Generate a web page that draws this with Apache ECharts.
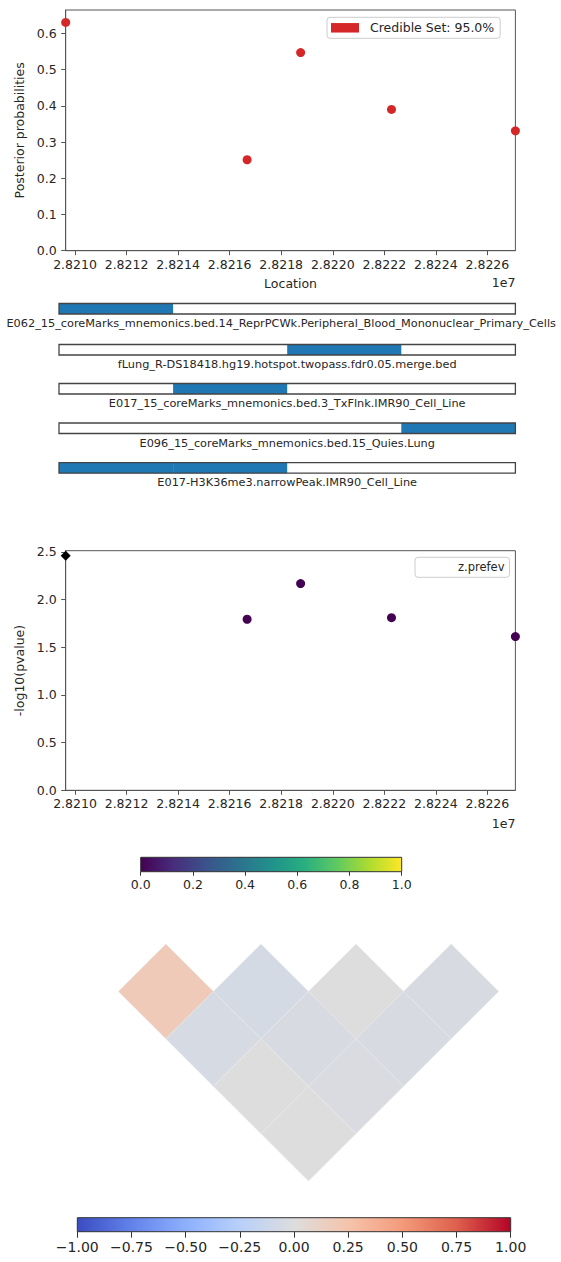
<!DOCTYPE html>
<html>
<head>
<meta charset="utf-8">
<script src="https://cdn.jsdelivr.net/npm/echarts@6/dist/echarts.min.js"></script>
<style>
  html, body { margin: 0; padding: 0; background: #fff; }
  #chart { width: 561px; height: 1262px; }
</style>
</head>
<body>
<div id="chart"></div>
<script>
// ---- data ---------------------------------------------------------------
// SNP positions (bp) in the fine-mapped locus
const snpLocations = [28209639, 28216677, 28218753, 28222279, 28227086];
// posterior inclusion probabilities of the credible-set SNPs
const posteriorProbs = [0.630, 0.251, 0.547, 0.390, 0.331];
// association strength per SNP
const negLog10P = [2.461, 1.794, 2.168, 1.811, 1.612];
// LD with the lead SNP (colour value of each point)
const pointColorValues = [0, 0, 0, 0, 0];
const leadSnpIndex = 0;

const credibleSetLabel = 'Credible Set: 95.0%';
const pvalueLegendLabel = 'z.prefev';

const locationTicks = [28210000, 28212000, 28214000, 28216000, 28218000, 28220000, 28222000, 28224000, 28226000];
const posteriorTicks = [0, 0.1, 0.2, 0.3, 0.4, 0.5, 0.6];
const logpTicks = [0, 0.5, 1.0, 1.5, 2.0, 2.5];

// functional annotation tracks: one flag per interval between SNPs
const trackNames = [
  'E062_15_coreMarks_mnemonics.bed.14_ReprPCWk.Peripheral_Blood_Mononuclear_Primary_Cells',
  'fLung_R-DS18418.hg19.hotspot.twopass.fdr0.05.merge.bed',
  'E017_15_coreMarks_mnemonics.bed.3_TxFlnk.IMR90_Cell_Line',
  'E096_15_coreMarks_mnemonics.bed.15_Quies.Lung',
  'E017-H3K36me3.narrowPeak.IMR90_Cell_Line'
];
const trackHits = [
  [1, 0, 0, 0],
  [0, 0, 1, 0],
  [0, 1, 0, 0],
  [0, 0, 0, 1],
  [1, 1, 0, 0]
];

// pairwise LD (r) between SNP i and SNP j
const ldPairs = [
  [0, 1, 0.19], [1, 2, -0.06], [2, 3, 0.00], [3, 4, -0.04],
  [0, 2, -0.05], [1, 3, -0.04], [2, 4, -0.04],
  [0, 3, 0.00], [1, 4, -0.03],
  [0, 4, 0.00]
];

const viridisRange = [0, 1];
const viridisTicks = [0, 0.2, 0.4, 0.6, 0.8, 1.0];
const coolwarmRange = [-1, 1];
const coolwarmTicks = [-1, -0.75, -0.5, -0.25, 0, 0.25, 0.5, 0.75, 1];

// ---- styling ------------------------------------------------------------
const FONT = 'DejaVu Sans';
const TEXT = '#262626';
const SPINE = '#555';
const VIRIDIS = ['#440154', '#472d7b', '#3b528b', '#2c728e', '#21918c', '#28ae80', '#5ec962', '#addc30', '#fde725'];
const COOLWARM = ['#3b4cc0', '#6282ea', '#8db0fe', '#b8d0f9', '#dddddd', '#f5c4ac', '#f49a7b', '#de604d', '#b40426'];

function gradientStops(colors) {
  return colors.map((c, k) => ({ offset: k / (colors.length - 1), color: c }));
}

const locMin = Math.min(...snpLocations);
const locMax = Math.max(...snpLocations);
const nSnp = snpLocations.length;

const tickLabel = (size) => ({ color: TEXT, fontFamily: FONT, fontSize: size });

function locationAxis(gridIndex, name) {
  return {
    gridIndex, type: 'value', min: locMin, max: locMax,
    axisLine: { show: true, lineStyle: { color: SPINE, width: 1 } },
    axisTick: { show: true, length: 4.5, customValues: locationTicks, lineStyle: { color: SPINE, width: 1 } },
    axisLabel: Object.assign({ customValues: locationTicks, margin: 7, formatter: v => (v / 1e7).toFixed(4) }, tickLabel(12.5)),
    splitLine: { show: false },
    name: name, nameLocation: 'middle', nameGap: 26,
    nameTextStyle: { color: TEXT, fontFamily: FONT, fontSize: 12.5 }
  };
}

function valueYAxis(gridIndex, min, max, ticks, name, gap) {
  return {
    gridIndex, type: 'value', min, max,
    axisLine: { show: true, lineStyle: { color: SPINE, width: 1 } },
    axisTick: { show: true, length: 4.5, customValues: ticks, lineStyle: { color: SPINE, width: 1 } },
    axisLabel: Object.assign({ customValues: ticks, margin: 9, formatter: v => v.toFixed(1) }, tickLabel(12.5)),
    splitLine: { show: false },
    name, nameLocation: 'middle', nameGap: gap,
    nameTextStyle: { color: TEXT, fontFamily: FONT, fontSize: 12.5 }
  };
}

function hiddenAxis(gridIndex, min, max, extra) {
  return Object.assign({
    gridIndex, type: 'value', min, max,
    axisLine: { show: false }, axisTick: { show: false }, axisLabel: { show: false }, splitLine: { show: false }
  }, extra || {});
}

// ---- layout -------------------------------------------------------------
const trackTops = [303.5, 344.5, 383.5, 423, 462.7];

const grids = [
  { left: 65.7, top: 10, width: 449.7, height: 240.7, show: true, borderColor: SPINE, borderWidth: 1 }
];
trackTops.forEach(t => grids.push({ left: 59, top: t, width: 456.4, height: 10.5, show: true, borderColor: '#444', borderWidth: 1.3, z: 10 }));
grids.push({ left: 65.7, top: 550.7, width: 449.7, height: 239.6, show: true, borderColor: SPINE, borderWidth: 1 });   // 6
grids.push({ left: 140.7, top: 857.3, width: 261, height: 14.4, show: true, borderColor: '#333', borderWidth: 1, z: 10 }); // 7
grids.push({ left: 118.3, top: 944, width: 380.4, height: 237 });                                                       // 8
grids.push({ left: 77.3, top: 1217.7, width: 433.4, height: 14, show: true, borderColor: '#333', borderWidth: 1, z: 10 }); // 9
grids.forEach(g => { g.containLabel = false; g.outerBoundsMode = 'none'; });

const xAxes = [locationAxis(0, 'Location')];
const yAxes = [valueYAxis(0, 0, 0.6644, posteriorTicks, 'Posterior probabilities', 31)];

trackNames.forEach((name, k) => {
  xAxes.push(hiddenAxis(k + 1, 0, trackHits[k].length, {
    name, nameLocation: 'middle', nameGap: 3,
    nameTextStyle: {
      color: TEXT, fontFamily: FONT, fontSize: 11.3, lineHeight: 13,
      // the longest name is nudged left so it stays inside the page
      padding: k === 0 ? [0, 12, 0, 0] : 0
    }
  }));
  yAxes.push(hiddenAxis(k + 1, 0, 1));
});

xAxes.push(locationAxis(6, ''));
yAxes.push(valueYAxis(6, 0, 2.513, logpTicks, '-log10(pvalue)', 29));

function colorbarAxis(gridIndex, range, ticks, digits, size, tickLen, margin) {
  return {
    gridIndex, type: 'value', min: range[0], max: range[1],
    axisLine: { show: false },
    axisTick: { show: true, length: tickLen, customValues: ticks, lineStyle: { color: '#333', width: 1 } },
    axisLabel: Object.assign({ customValues: ticks, margin, formatter: v => v.toFixed(digits).replace('-', '\u2212') }, tickLabel(size)),
    splitLine: { show: false }
  };
}
xAxes.push(colorbarAxis(7, viridisRange, viridisTicks, 1, 12.5, 4, 6));
yAxes.push(hiddenAxis(7, 0, 1));
// LD triangle: x = midpoint between the two SNP indices, y = -(distance)/2
xAxes.push(hiddenAxis(8, 0, nSnp - 1));
yAxes.push(hiddenAxis(8, -nSnp / 2, 0));
xAxes.push(colorbarAxis(9, coolwarmRange, coolwarmTicks, 2, 14, 6, 8));
yAxes.push(hiddenAxis(9, 0, 1));

// ---- series -------------------------------------------------------------
const series = [];

series.push({
  name: credibleSetLabel, type: 'scatter', xAxisIndex: 0, yAxisIndex: 0,
  symbol: 'circle', symbolSize: 9, clip: false,
  itemStyle: { color: '#d62728', opacity: 1 },
  data: snpLocations.map((x, k) => [x, posteriorProbs[k]])
});

trackHits.forEach((hits, t) => {
  series.push({
    type: 'custom', xAxisIndex: t + 1, yAxisIndex: t + 1,
    data: hits.map((h, k) => [k, h]),
    renderItem: (params, api) => {
      if (!api.value(1)) return null;
      const a = api.coord([api.value(0), 0]);
      const b = api.coord([api.value(0) + 1, 1]);
      return { type: 'rect', shape: { x: a[0], y: b[1], width: b[0] - a[0], height: a[1] - b[1] }, style: { fill: '#1f77b4' } };
    }
  });
});

series.push({
  name: pvalueLegendLabel, type: 'scatter', xAxisIndex: 6, yAxisIndex: 6,
  symbol: 'circle', symbolSize: 9, clip: false,
  itemStyle: { opacity: 1 },
  data: snpLocations.map((x, k) => [x, negLog10P[k], pointColorValues[k]]).filter((d, k) => k !== leadSnpIndex)
});
series.push({
  name: 'lead SNP', type: 'scatter', xAxisIndex: 6, yAxisIndex: 6,
  symbol: 'diamond', symbolSize: [10, 10], clip: false,
  itemStyle: { color: '#000', opacity: 1 },
  data: [[snpLocations[leadSnpIndex], negLog10P[leadSnpIndex]]]
});

function colorbarSeries(axisIndex, range, colors) {
  return {
    type: 'custom', xAxisIndex: axisIndex, yAxisIndex: axisIndex,
    data: [range],
    renderItem: (params, api) => {
      const a = api.coord([api.value(0), 0]);
      const b = api.coord([api.value(1), 1]);
      return {
        type: 'rect',
        shape: { x: a[0], y: b[1], width: b[0] - a[0], height: a[1] - b[1] },
        style: { fill: new echarts.graphic.LinearGradient(0, 0, 1, 0, gradientStops(colors)) }
      };
    }
  };
}
series.push(colorbarSeries(7, viridisRange, VIRIDIS));

series.push({
  type: 'custom', xAxisIndex: 8, yAxisIndex: 8,
  data: ldPairs,
  renderItem: (params, api) => {
    const i = api.value(0), j = api.value(1);
    const cx = (i + j) / 2, d = j - i;
    const pts = [[cx, -(d - 1) / 2], [cx + 0.5, -d / 2], [cx, -(d + 1) / 2], [cx - 0.5, -d / 2]].map(p => api.coord(p));
    return { type: 'polygon', shape: { points: pts }, style: { fill: api.visual('color'), stroke: 'rgba(232,232,232,0.9)', lineWidth: 0.7 } };
  }
});

series.push(colorbarSeries(9, coolwarmRange, COOLWARM));

const option = {
  animation: false,
  backgroundColor: '#fff',
  textStyle: { fontFamily: FONT },
  grid: grids,
  xAxis: xAxes,
  yAxis: yAxes,
  visualMap: [
    { type: 'continuous', show: false, seriesIndex: 6, dimension: 2, min: viridisRange[0], max: viridisRange[1], inRange: { color: VIRIDIS } },
    { type: 'continuous', show: false, seriesIndex: 9, dimension: 2, min: coolwarmRange[0], max: coolwarmRange[1], inRange: { color: COOLWARM } }
  ],
  legend: [
    {
      left: 327, top: 17.3, orient: 'vertical',
      padding: [4, 6, 4, 4], itemWidth: 28, itemHeight: 9.5,
      borderColor: '#ccc', borderWidth: 1, borderRadius: 3, backgroundColor: 'rgba(255,255,255,0.8)',
      data: [{ name: credibleSetLabel, icon: 'rect' }],
      textStyle: { color: TEXT, fontFamily: FONT, fontSize: 12.5, padding: [0, 0, 0, 6] }
    },
    {
      left: 415, top: 557.3, orient: 'vertical',
      padding: [4, 5, 4, 4], itemWidth: 28, itemHeight: 9.5,
      borderColor: '#ccc', borderWidth: 1, borderRadius: 3, backgroundColor: 'rgba(255,255,255,0.8)',
      data: [{ name: pvalueLegendLabel, icon: 'rect', itemStyle: { opacity: 0 } }],
      textStyle: { color: TEXT, fontFamily: FONT, fontSize: 11.5, padding: [0, 0, 0, 6] }
    }
  ],
  graphic: [
    { type: 'text', x: 515.4, y: 282, style: { text: '1e7', align: 'right', verticalAlign: 'middle', fill: TEXT, font: '12.5px "DejaVu Sans"' } },
    { type: 'text', x: 515.4, y: 823, style: { text: '1e7', align: 'right', verticalAlign: 'middle', fill: TEXT, font: '12.5px "DejaVu Sans"' } }
  ],
  series
};

const chart = echarts.init(document.getElementById('chart'), null, { renderer: 'svg', width: 561, height: 1262 });
chart.setOption(option);
</script>
</body>
</html>
